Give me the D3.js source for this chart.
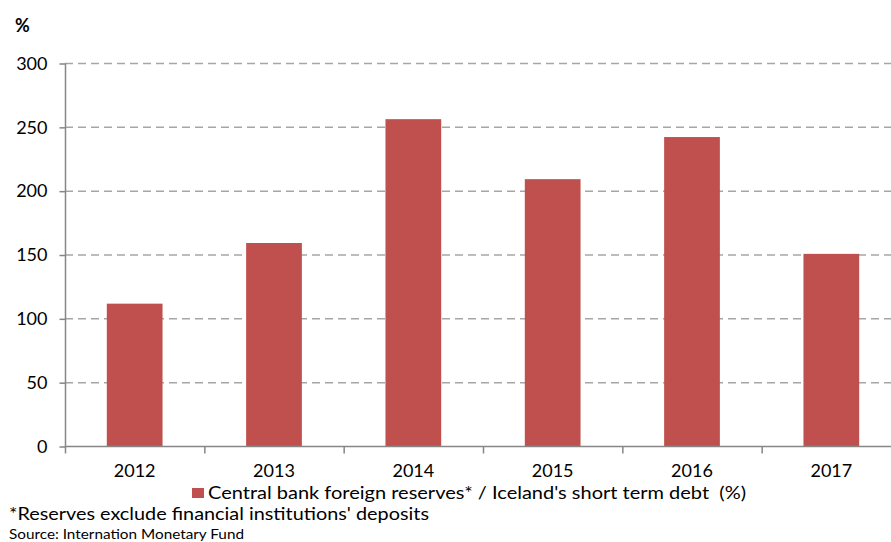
<!DOCTYPE html>
<html>
<head>
<meta charset="utf-8">
<script src="https://cdn.jsdelivr.net/npm/d3@7"></script>
<style>
  body { margin: 0; background: #fff; }
  text { font-family: Lato, "Open Sans", sans-serif; fill: #000; white-space: pre; }
</style>
</head>
<body>
<svg width="891" height="542"></svg>
<script>
var years = ['2012', '2013', '2014', '2015', '2016', '2017'];
var ratio = [111.5, 159, 256, 209, 242, 150.5];
var yTicks = [0, 50, 100, 150, 200, 250, 300];
var legendLabel = "Central bank foreign reserves* / Iceland's short term debt  (%)";
var footnote = "*Reserves exclude financial institutions' deposits";
var source = 'Source: Internation Monetary Fund';

var svg = d3.select('svg');
var plotL = 65, plotR = 901, plotT = 63, plotB = 446;

var x = d3.scaleBand()
  .domain(years)
  .range([plotL, plotR])
  .paddingInner(0.6)
  .paddingOuter(0.3);

var y = d3.scaleLinear()
  .domain([0, 300])
  .range([plotB, plotT]);

// dashed grid
svg.append('g')
  .selectAll('line')
  .data(yTicks.filter(d => d > 0))
  .enter()
  .append('line')
  .attr('x1', plotL)
  .attr('x2', 891)
  .attr('y1', d => y(d) + 0.5)
  .attr('y2', d => y(d) + 0.5)
  .attr('stroke', '#a6a6a6')
  .attr('stroke-width', 1.5)
  .attr('stroke-dasharray', '8,5');

// bars
svg.append('g')
  .selectAll('rect')
  .data(years)
  .enter()
  .append('rect')
  .attr('x', d => x(d))
  .attr('y', (d, i) => y(ratio[i]))
  .attr('width', x.bandwidth())
  .attr('height', (d, i) => y(0) - y(ratio[i]))
  .attr('fill', '#c0504d');

// y axis
var yAxis = svg.append('g')
  .attr('transform', `translate(${plotL + 0.5}, 0.5)`)
  .call(d3.axisLeft(y).tickValues(yTicks).tickSize(6).tickPadding(12));
yAxis.select('.domain').attr('stroke', '#868686').attr('stroke-width', 1.5).attr('d', `M0,${plotT}V${plotB}`);
yAxis.selectAll('.tick line').attr('stroke', '#868686').attr('stroke-width', 1.5);
yAxis.selectAll('.tick text').style('font-size', '18px').attr('fill', '#000');

// x axis, ticks on category boundaries
var step = x.step();
var xAxis = svg.append('g')
  .attr('transform', `translate(0, ${plotB + 0.5})`);
xAxis.append('line')
  .attr('x1', plotL).attr('x2', 891)
  .attr('stroke', '#868686').attr('stroke-width', 1.5);
xAxis.selectAll('.xt')
  .data(d3.range(years.length + 1))
  .enter()
  .append('line')
  .attr('x1', i => plotL + i * step + 0.5)
  .attr('x2', i => plotL + i * step + 0.5)
  .attr('y1', 0).attr('y2', 7)
  .attr('stroke', '#868686').attr('stroke-width', 1.5);
xAxis.selectAll('text')
  .data(years)
  .enter()
  .append('text')
  .attr('x', d => x(d) + x.bandwidth() / 2)
  .attr('y', 30)
  .attr('text-anchor', 'middle')
  .style('font-size', '18px')
  .text(d => d);

// unit label
svg.append('text')
  .attr('x', 15).attr('y', 32)
  .style('font-size', '18px').style('font-weight', 'bold')
  .text('%');

// legend
svg.append('rect')
  .attr('x', 192).attr('y', 488)
  .attr('width', 12).attr('height', 10)
  .attr('fill', '#c0504d');
svg.append('text')
  .attr('x', 208).attr('y', 499)
  .style('font-size', '18px')
  .attr('textLength', 538)
  .attr('lengthAdjust', 'spacingAndGlyphs')
  .text(legendLabel);

svg.append('text')
  .attr('x', 9).attr('y', 520)
  .style('font-size', '18px')
  .attr('textLength', 420)
  .attr('lengthAdjust', 'spacingAndGlyphs')
  .text(footnote);

svg.append('text')
  .attr('x', 9).attr('y', 539)
  .style('font-size', '14px')
  .attr('textLength', 235)
  .attr('lengthAdjust', 'spacingAndGlyphs')
  .text(source);
</script>
</body>
</html>
